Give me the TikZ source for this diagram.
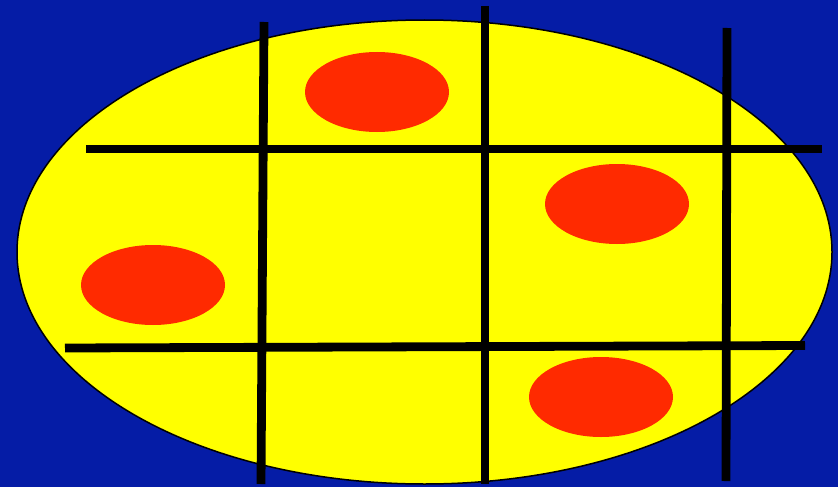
\documentclass[tikz,border=0pt]{standalone}
\usepackage[svgnames]{xcolor}
\definecolor{bgblue}{RGB}{5,28,166}
\definecolor{spotred}{RGB}{255,42,0}
\definecolor{eggyellow}{RGB}{255,255,0}
\tikzset{
  grid line/.style={line width=8.8pt, black},
  spot/.style={fill=spotred, draw=none}
}

\begin{document}
\begin{tikzpicture}[x=1pt, y=-1pt]
  % 背景
  \fill[bgblue] (0,0) rectangle (838,487);
  \useasboundingbox (0,0) rectangle (838,487);

  % 椭圆
  \draw[fill=eggyellow, line width=1.5pt] (424.5,252) ellipse [x radius=407.5, y radius=232];

  % 红点
  \fill[spot] (377,92) ellipse [x radius=72, y radius=40];
  \fill[spot] (617,204) ellipse [x radius=72, y radius=40];
  \fill[spot] (153,285) ellipse [x radius=72, y radius=40];
  \fill[spot] (601,397) ellipse [x radius=72, y radius=40];

  % 坐标点定义
  \coordinate (V_1a) at (264,22);
  \coordinate (V_1b) at (261,484);
  \coordinate (V_2a) at (485,6);
  \coordinate (V_2b) at (485,484);
  \coordinate (V_3a) at (727,28);
  \coordinate (V_3b) at (726,481);
  \coordinate (H_1a) at (86,149);
  \coordinate (H_1b) at (822,149);
  \coordinate (H_2a) at (65,348);
  \coordinate (H_2b) at (805,345.5);

  % 线条
  \draw[grid line] (V_1a) -- (V_1b);
  \draw[grid line] (V_2a) -- (V_2b);
  \draw[grid line] (V_3a) -- (V_3b);
  \draw[grid line] (H_1a) -- (H_1b);
  \draw[grid line] (H_2a) -- (H_2b);
\end{tikzpicture}
\end{document}
